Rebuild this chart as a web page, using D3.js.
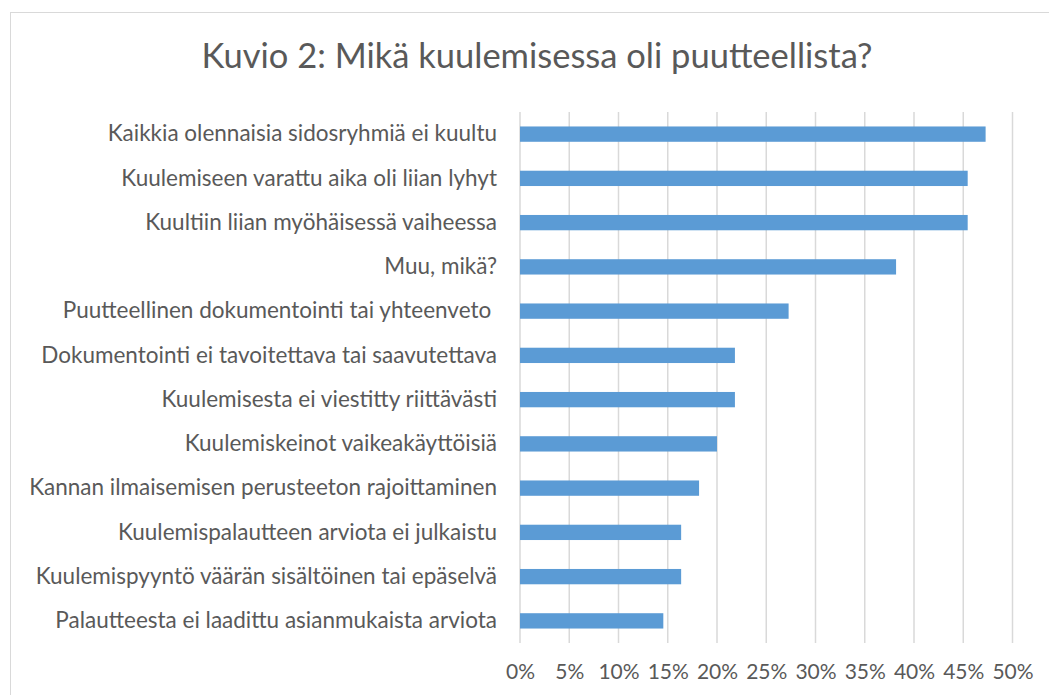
<!DOCTYPE html>
<html>
<head>
<meta charset="utf-8">
<script src="https://cdn.jsdelivr.net/npm/d3@7"></script>
<style>
  body { margin: 0; background: #fff; }
  text { font-family: Lato, "Open Sans", sans-serif; fill: #595959; }
</style>
</head>
<body>
<div id="chart"></div>
<script>
var categories = [
  "Kaikkia olennaisia sidosryhmiä ei kuultu",
  "Kuulemiseen varattu aika oli liian lyhyt",
  "Kuultiin liian myöhäisessä vaiheessa",
  "Muu, mikä?",
  "Puutteellinen dokumentointi tai yhteenveto ",
  "Dokumentointi ei tavoitettava tai saavutettava",
  "Kuulemisesta ei viestitty riittävästi",
  "Kuulemiskeinot vaikeakäyttöisiä",
  "Kannan ilmaisemisen perusteeton rajoittaminen",
  "Kuulemispalautteen arviota ei julkaistu",
  "Kuulemispyyntö väärän sisältöinen tai epäselvä",
  "Palautteesta ei laadittu asianmukaista arviota"
];
var values = [0.4727, 0.4545, 0.4545, 0.3818, 0.2727, 0.2182, 0.2182, 0.2000, 0.1818, 0.1636, 0.1636, 0.1455];
var tickValues = [0, 0.05, 0.10, 0.15, 0.20, 0.25, 0.30, 0.35, 0.40, 0.45, 0.50];
var title = "Kuvio 2: Mikä kuulemisessa oli puutteellista?";

var width = 1049, height = 695;
var svg = d3.select("#chart").append("svg")
    .attr("width", width)
    .attr("height", height);

// chart frame (runs off the page on right and bottom)
svg.append("rect")
    .attr("x", 10.5).attr("y", 12.5)
    .attr("width", 1100).attr("height", 750)
    .attr("fill", "#fff")
    .attr("stroke", "#d9d9d9");

svg.append("text")
    .attr("x", 537).attr("y", 68)
    .attr("text-anchor", "middle")
    .style("font-size", "34.5px")
    .text(title);

var xscale = d3.scaleLinear().domain([0, 0.5]).range([520, 1012.5]);
var yscale = d3.scaleBand().domain(categories).range([112, 643]).paddingInner(0.654).paddingOuter(0.327);

// gridlines
svg.append("g").selectAll("line")
    .data(tickValues)
    .enter().append("line")
    .attr("x1", function(d){ return xscale(d); })
    .attr("x2", function(d){ return xscale(d); })
    .attr("y1", 112).attr("y2", 643)
    .attr("stroke", "#d9d9d9")
    .attr("stroke-width", 1.5);

svg.append("g").selectAll("rect")
    .data(values)
    .enter().append("rect")
    .attr("x", xscale(0))
    .attr("y", function(d, i){ return yscale(categories[i]); })
    .attr("width", function(d){ return xscale(d) - xscale(0); })
    .attr("height", yscale.bandwidth())
    .attr("fill", "#5b9bd5");

// x axis labels
var xAxis = d3.axisBottom(xscale)
    .tickValues(tickValues)
    .tickSize(0)
    .tickPadding(0)
    .tickFormat(d3.format(".0%"));
var gx = svg.append("g")
    .attr("transform", "translate(0,664)")
    .call(xAxis);
gx.select(".domain").remove();
gx.selectAll("text")
    .style("font-size", "21px")
    .attr("fill", "#595959");

// y axis labels
var yAxis = d3.axisLeft(yscale).tickSize(0).tickPadding(0);
var gy = svg.append("g")
    .attr("transform", "translate(497,0)")
    .call(yAxis);
gy.select(".domain").remove();
gy.selectAll("text")
    .style("font-size", "22.5px")
    .style("white-space", "pre")
    .attr("fill", "#595959");
</script>
</body>
</html>
